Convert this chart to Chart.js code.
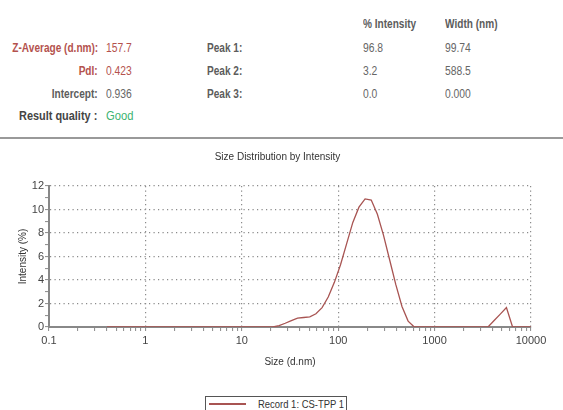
<!DOCTYPE html>
<html>
<head>
<meta charset="utf-8">
<script src="https://cdn.jsdelivr.net/npm/chart.js@4.4.1/dist/chart.umd.min.js"></script>
<style>
  body { margin: 0; background: #fff; width: 563px; height: 410px; overflow: hidden; position: relative;
         font-family: "Liberation Sans", Arial, sans-serif; }
  .t { position: absolute; font-size: 12px; line-height: 14px; white-space: nowrap; color: #666;
       transform: scaleX(0.86); transform-origin: left center; }
  .lab { font-weight: bold; color: #5c5c5c; transform: scaleX(0.84); }
  .red { color: #b4524e; }
  .r { transform-origin: right center; text-align: right; }
  #sep { position: absolute; left: 0; top: 137px; width: 563px; height: 2px; background: #999; }
  #chart { position: absolute; left: 0; top: 140px; }
  #legend { position: absolute; left: 205px; top: 396px; width: 140px; height: 30px; border: 1px solid #555; }
  #legend .swatch { position: absolute; left: 3px; top: 6px; width: 37px; height: 1.5px; background: #a85452; }
  #legend .txt { position: absolute; left: 52px; top: 0; font-size: 11px; line-height: 14px; color: #333;
                 white-space: nowrap; transform: scaleX(0.86); transform-origin: left center; }
</style>
</head>
<body>
<!-- summary table -->
<div class="t lab" style="left:363px;top:17px">% Intensity</div>
<div class="t lab" style="left:445px;top:17px">Width (nm)</div>

<div class="t lab red r" style="right:465px;top:41px">Z-Average (d.nm):</div>
<div class="t red" style="left:106px;top:41px">157.7</div>
<div class="t lab" style="left:207px;top:41px">Peak 1:</div>
<div class="t" style="left:363px;top:41px">96.8</div>
<div class="t" style="left:445px;top:41px">99.74</div>

<div class="t lab red r" style="right:465px;top:64px">PdI:</div>
<div class="t red" style="left:106px;top:64px">0.423</div>
<div class="t lab" style="left:207px;top:64px">Peak 2:</div>
<div class="t" style="left:363px;top:64px">3.2</div>
<div class="t" style="left:445px;top:64px">588.5</div>

<div class="t lab r" style="right:465px;top:87px">Intercept:</div>
<div class="t" style="left:106px;top:87px">0.936</div>
<div class="t lab" style="left:207px;top:87px">Peak 3:</div>
<div class="t" style="left:363px;top:87px">0.0</div>
<div class="t" style="left:445px;top:87px">0.000</div>

<div class="t lab" style="left:19px;top:109px;font-size:13px;color:#444">Result quality :</div>
<div class="t" style="left:106px;top:109px;font-size:13px;color:#3cb371">Good</div>

<div id="sep"></div>
<canvas id="chart" width="563" height="232"></canvas>
<div id="legend"><div class="swatch"></div><div class="txt">Record 1: CS-TPP 1</div></div>

<script>
// size bins (d.nm) and % intensity
const sizes = [0.4, 0.4632, 0.5365, 0.6213, 0.7195, 0.8332, 0.9649, 1.117, 1.294, 1.499,
  1.736, 2.01, 2.328, 2.696, 3.122, 3.615, 4.187, 4.849, 5.615, 6.503,
  7.531, 8.721, 10.1, 11.7, 13.54, 15.69, 18.17, 21.04, 24.36, 28.21,
  32.67, 37.84, 43.82, 50.75, 58.77, 68.06, 78.82, 91.28, 105.7, 122.4,
  141.8, 164.2, 190.1, 220.2, 255, 295.3, 342, 396.1, 458.7, 531.2,
  615.1, 712.4, 825, 955.4, 1106, 1281, 1484, 1718, 1990, 2305,
  2669, 3091, 3580, 4145, 4801, 5560, 6439, 7456, 8635, 10000];
const intensity = [0, 0, 0, 0, 0, 0, 0, 0, 0, 0,
  0, 0, 0, 0, 0, 0, 0, 0, 0, 0,
  0, 0, 0, 0, 0, 0, 0, 0, 0.12, 0.32,
  0.55, 0.76, 0.81, 0.86, 1.13, 1.65, 2.55, 3.8, 5.3, 7.1,
  8.9, 10.2, 10.9, 10.8, 9.6, 7.8, 5.7, 3.6, 1.75, 0.5,
  0, 0, 0, 0, 0, 0, 0, 0, 0, 0,
  0, 0, 0, 0.55, 1.1, 1.65, 0, 0, 0, 0];
const xDecades = [0.1, 1, 10, 100, 1000, 10000];
const xTickLabels = ["0.1", "1", "10", "100", "1000", "10000"];
const yTickLabels = ["0", "2", "4", "6", "8", "10", "12"];

const font = { family: "'Liberation Sans', Arial, sans-serif", size: 10 };
const gridCol = "#8a8a8a";
const axisCol = "#888";

// major decades plus 2..9 minor ticks
const xTicks = [];
xDecades.forEach((d, i) => {
  xTicks.push(d);
  if (i < xDecades.length - 1) for (let m = 2; m <= 9; m++) xTicks.push(d * m);
});

new Chart(document.getElementById("chart"), {
  type: "line",
  data: {
    datasets: [{
      label: "Record 1: CS-TPP 1",
      data: sizes.map((s, i) => ({ x: s, y: intensity[i] })),
      borderColor: "#a85452",
      borderWidth: 1.3,
      pointRadius: 0,
      tension: 0,
      fill: false,
    }],
  },
  options: {
    responsive: false,
    animation: false,
    layout: { padding: { left: 0, right: 8, top: 0, bottom: 0 } },
    plugins: {
      legend: { display: false },
      tooltip: { enabled: false },
      title: {
        display: true,
        text: "Size Distribution by Intensity",
        color: "#333",
        font: { ...font, weight: "normal" },
        padding: { top: 11, bottom: 23 },
      },
    },
    scales: {
      x: {
        type: "logarithmic",
        min: 0.1,
        max: 10000,
        afterBuildTicks: (s) => { s.ticks = xTicks.map((v) => ({ value: v })); },
        afterFit: (s) => { s.height = 45; },
        ticks: {
          autoSkip: false,
          maxRotation: 0,
          padding: 3,
          color: "#444",
          font: { ...font, size: 11 },
          callback: (v) => {
            const k = xDecades.indexOf(v);
            return k >= 0 ? xTickLabels[k] : "";
          },
        },
        grid: {
          color: (c) => (c.tick && xDecades.includes(c.tick.value) ? gridCol : "transparent"),
          lineWidth: 1.2,
          tickLength: 4,
          tickColor: axisCol,
          tickWidth: 1,
        },
        border: { color: axisCol, width: 2, dash: [1.2, 3.3] },
        title: { display: true, text: "Size (d.nm)", color: "#333", font, padding: { top: 4, bottom: 4 } },
      },
      y: {
        min: 0,
        max: 12,
        afterFit: (s) => { s.width = 49; },
        ticks: {
          stepSize: 1,
          autoSkip: false,
          padding: 1,
          color: "#444",
          font: { ...font, size: 11 },
          callback: (v) => (yTickLabels.includes(String(v)) ? String(v) : ""),
        },
        grid: {
          color: (c) => (c.tick && c.tick.value % 2 === 0 ? gridCol : "transparent"),
          lineWidth: 1.2,
          tickLength: 4,
          tickColor: axisCol,
          tickWidth: 1,
        },
        border: { color: axisCol, width: 2, dash: [1.2, 3.3] },
        title: { display: true, text: "Intensity (%)", color: "#333", font, padding: { top: 17, bottom: 0 } },
      },
      // empty right-hand spacer so the plot ends at the same place while the title centres wider
      spacer: {
        type: "linear",
        position: "right",
        afterFit: (s) => { s.width = 24; },
        ticks: { display: false },
        grid: { drawOnChartArea: false, drawTicks: false },
        border: { display: false },
      },
    },
  },
});
</script>
</body>
</html>
